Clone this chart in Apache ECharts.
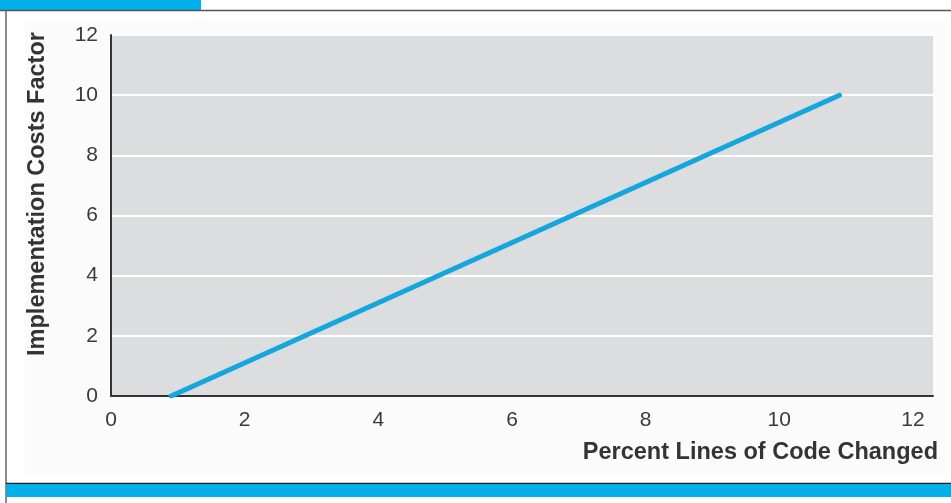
<!DOCTYPE html>
<html>
<head>
<meta charset="utf-8">
<script src="https://cdn.jsdelivr.net/npm/echarts@6/dist/echarts.min.js"></script>
<style>
html,body{margin:0;padding:0;background:#fff;}
#c{width:951px;height:503px;}
</style>
</head>
<body>
<div id="c"></div>
<script>
var xAxisTitle = 'Percent Lines of Code Changed';
var yAxisTitle = 'Implementation Costs Factor';
var xValues = [0.9, 10.9];
var yValues = [0, 10];
var xTicks = [0, 2, 4, 6, 8, 10, 12];
var yTicks = [0, 2, 4, 6, 8, 10, 12];

var chart = echarts.init(document.getElementById('c'), null, {renderer: 'canvas'});
var font = '"Liberation Sans", Arial, sans-serif';
var data = xValues.map(function (x, i) { return [x, yValues[i]]; });

chart.setOption({
  animation: false,
  backgroundColor: '#ffffff',
  grid: {
    left: 111, right: 18, top: 35, bottom: 107,
    show: true, backgroundColor: '#dcdddf', borderWidth: 0
  },
  xAxis: {
    type: 'value', min: 0, max: 12.3, interval: 2,
    axisLine: {show: true, onZero: false, lineStyle: {color: '#333', width: 2}},
    axisTick: {show: false},
    splitLine: {show: false},
    axisLabel: {
      color: '#3a3a3a', fontSize: 21, fontFamily: font, margin: 14,
      formatter: function (v) { return xTicks.indexOf(v) >= 0 ? String(v) : ''; }
    }
  },
  yAxis: {
    type: 'value', min: 0, max: 12, interval: 2,
    axisLine: {show: true, onZero: false, lineStyle: {color: '#333', width: 2}},
    axisTick: {show: false},
    splitLine: {show: true, lineStyle: {color: '#ffffff', width: 2}},
    axisLabel: {
      color: '#3a3a3a', fontSize: 21, fontFamily: font, margin: 13,
      formatter: function (v) { return yTicks.indexOf(v) >= 0 ? String(v) : ''; }
    }
  },
  series: [{
    type: 'line',
    data: data,
    symbol: 'none',
    lineStyle: {color: '#14a6dc', width: 5, cap: 'round'}
  }],
  graphic: [
    {type: 'rect', z: -10, shape: {x: 25, y: 20, width: 920, height: 455}, style: {fill: '#fbfbfb'}, silent: true},
    {type: 'rect', shape: {x: 0, y: 0, width: 201, height: 10}, style: {fill: '#00b0ea'}, silent: true},
    {type: 'line', shape: {x1: 0, y1: 10.5, x2: 951, y2: 10.5}, style: {stroke: '#555', lineWidth: 1.5}, silent: true},
    {type: 'line', shape: {x1: 6, y1: 10, x2: 6, y2: 503}, style: {stroke: '#666', lineWidth: 1.5}, silent: true},
    {type: 'line', shape: {x1: 6, y1: 483.5, x2: 951, y2: 483.5}, style: {stroke: '#222', lineWidth: 1.5}, silent: true},
    {type: 'rect', shape: {x: 6.5, y: 484, width: 945, height: 13}, style: {fill: '#00b0ea'}, silent: true},
    {type: 'text', x: 938, y: 453, style: {
      text: xAxisTitle, fill: '#333', font: 'bold 23.5px ' + font, align: 'right', verticalAlign: 'middle'
    }, silent: true},
    {type: 'text', x: 38, y: 194, rotation: Math.PI / 2, style: {
      text: yAxisTitle, fill: '#333', font: 'bold 23.5px ' + font, align: 'center', verticalAlign: 'middle'
    }, silent: true}
  ]
});
</script>
</body>
</html>
